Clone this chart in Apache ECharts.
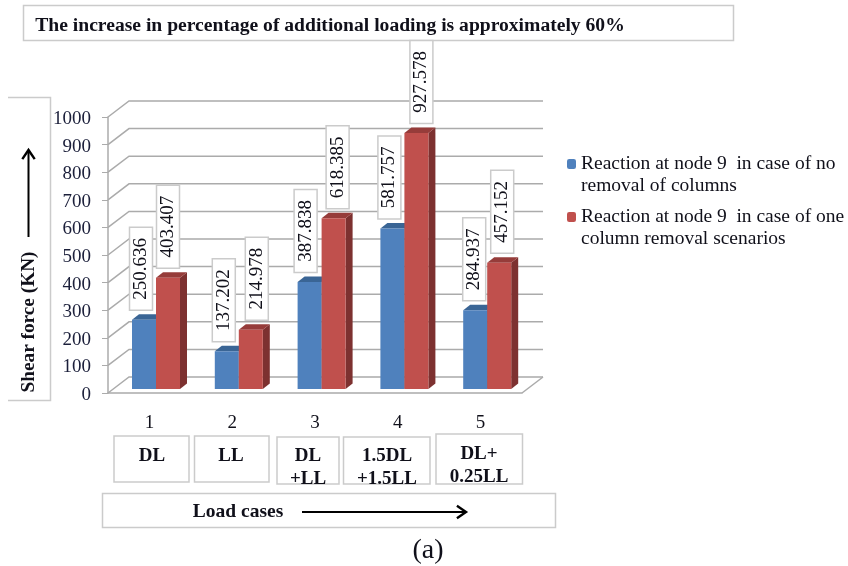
<!DOCTYPE html>
<html><head><meta charset="utf-8">
<style>html,body{margin:0;padding:0;background:#fff}#c{width:848px;height:566px}</style>
<script src="https://cdn.jsdelivr.net/npm/echarts@6/dist/echarts.min.js"></script>
</head><body><div id="c"></div>
<script>
const categories = ['1','2','3','4','5'];
const loadCases = ['DL','LL','DL\n+LL','1.5DL\n+1.5LL','DL+\n0.25LL'];
const noRemoval = [250.636,137.202,387.838,581.757,284.937];
const oneRemoval = [403.407,214.978,618.385,927.578,457.152];
const yTicks = [0,100,200,300,400,500,600,700,800,900,1000];
const nameNoRemoval = 'Reaction at node 9  in case of no\nremoval of columns';
const nameOneRemoval = 'Reaction at node 9  in case of one\ncolumn removal scenarios';
const titleText = 'The increase in percentage of additional loading is approximately 60%';

const SERIF = '"Liberation Serif","Times New Roman",serif';
const INK = '#10101a', BOX = '#cbcbcb', GRID = '#ababab';
const DX = 21, DY = -16;           // depth of the back wall
const BW = 24, BD = 7, BT = 5.5, LIFT = 4, SHIFT = 6.6; // bar shape
// hand-placed label boxes in the original: horizontal nudge from the bar
const nudgeBlue = [-3,-3,-4,-3,-1];
const nudgeRed = [0,6,4,5,3];

function wall(params, api){
  const v = api.value(0);
  const half = api.size([1,0])[0]/2;
  const p = api.coord([0, v]);
  const q = api.coord([categories.length-1, v]);
  const x0 = p[0]-half, x1 = q[0]+half, y = p[1];
  const kids = [{type:'polyline',shape:{points:[[x0,y],[x0+DX,y+DY],[x1+DX,y+DY]]},
    style:{stroke:GRID,lineWidth:1.5,fill:null},silent:true}];
  if(v===0) kids.push({type:'line',shape:{x1:x1,y1:y,x2:x1+DX,y2:y+DY},style:{stroke:GRID,lineWidth:1.5}});
  return {type:'group',children:kids};
}
function barMaker(side, front, top, dark, nudge){
  return function(params, api){
    const i = api.value(0), v = api.value(1);
    const c = api.coord([i, v]), b = api.coord([i, 0]);
    const xc = c[0]+SHIFT, x0 = side<0 ? xc-BW : xc, x1 = x0+BW;
    const yt = c[1]-LIFT, yb = b[1]-LIFT;
    const by = yt-9.5, bh = 83, bw = 23, bx = (x0+x1)/2+nudge[i];
    return {type:'group',children:[
      {type:'polygon',shape:{points:[[x1,yt],[x1+BD,yt-BT],[x1+BD,yb-BT],[x1,yb]]},style:{fill:dark}},
      {type:'polygon',shape:{points:[[x0,yt],[x0+BD,yt-BT],[x1+BD,yt-BT],[x1,yt]]},style:{fill:top}},
      {type:'rect',shape:{x:x0,y:yt,width:BW,height:yb-yt},style:{fill:front}},
      {type:'rect',shape:{x:bx-bw/2,y:by-bh,width:bw,height:bh},style:{fill:'#fff',stroke:BOX,lineWidth:1.5}},
      {type:'text',x:bx,y:by-bh/2,rotation:Math.PI/2,style:{text:v.toFixed(3),align:'center',verticalAlign:'middle',
        fill:INK,font:'19px '+SERIF}}
    ]};
  };
}
function box(x,y,w,h){return {type:'rect',shape:{x:x,y:y,width:w,height:h},style:{fill:'#fff',stroke:BOX,lineWidth:1.5},z:1};}
function txt(x,y,t,size,bold,rot,lh){return {type:'text',x:x,y:y,rotation:rot||0,z:2,
  style:{text:t,align:'center',verticalAlign:'middle',fill:INK,font:(bold?'bold ':'')+size+'px '+SERIF,lineHeight:lh||size}};}
function arrow(x1,y1,x2,y2){
  const a=Math.atan2(y2-y1,x2-x1),s=11;
  return [{type:'line',z:2,shape:{x1:x1,y1:y1,x2:x2,y2:y2},style:{stroke:'#000',lineWidth:2}},
   {type:'polyline',z:2,shape:{points:[[x2-s*Math.cos(a-0.6),y2-s*Math.sin(a-0.6)],[x2,y2],[x2-s*Math.cos(a+0.6),y2-s*Math.sin(a+0.6)]]},
    style:{stroke:'#000',lineWidth:2.4,fill:null}}];
}
const caseBoxes = [[114,436,75,46,152,456],[194.5,436,74.5,46,231,456],[277,437,62,47,308,468],[343.5,437,86.5,47,387,468],[436,434,86.5,50,479,466]];
const graphics = [
  box(23.5,5.5,710,35), txt(330,26,titleText,19.6,true),
  {type:'polyline',z:1,shape:{points:[[8,97.5],[50.5,97.5],[50.5,400.5],[8,400.5]]},style:{stroke:BOX,fill:null,lineWidth:1.5}},
  txt(29.5,322,'Shear force (KN)',19.3,true,Math.PI/2),
  ...arrow(28.5,237,28.5,150),
  box(102.5,493.5,453,34), txt(238,512,'Load cases',19.5,true),
  ...arrow(302,512,466,512),
  txt(428,551,'(a)',28,false)
];
caseBoxes.forEach((b,i)=>{graphics.push(box(b[0],b[1],b[2],b[3]));graphics.push(txt(b[4],b[5],loadCases[i],19,true,0,23));});

const chart = echarts.init(document.getElementById('c'),null,{renderer:'canvas'});
chart.setOption({
  animation:false,
  backgroundColor:'#fff',
  grid:{left:108,top:117,width:414,height:276},
  legend:{left:567,top:131,padding:0,orient:'vertical',itemWidth:9,itemHeight:10,itemGap:-13,
    data:[nameNoRemoval,nameOneRemoval],selectedMode:false,
    formatter:n=>' \n'+n,
    textStyle:{fontFamily:SERIF,fontSize:19.5,color:INK,lineHeight:22}},
  xAxis:{type:'category',data:categories,
    axisLine:{lineStyle:{color:GRID,width:1.5}},
    axisTick:{length:6,lineStyle:{color:GRID}},
    axisLabel:{margin:21,fontFamily:SERIF,fontSize:19,color:INK}},
  yAxis:{type:'value',min:0,max:1000,interval:100,
    axisLine:{show:true,lineStyle:{color:GRID,width:1.5}},
    axisTick:{show:true,length:6,lineStyle:{color:GRID}},
    splitLine:{show:false},
    axisLabel:{margin:17,verticalAlign:'top',lineHeight:4,fontFamily:SERIF,fontSize:19,color:'#1b1f3a',formatter:v=>String(v)}},
  series:[
    {type:'custom',name:'walls',renderItem:wall,data:yTicks.map(v=>[v]),encode:{y:0},silent:true,z:1,clip:false},
    {type:'custom',name:nameNoRemoval,itemStyle:{color:'#4F81BD'},z:3,clip:false,encode:{x:0,y:1},
      renderItem:barMaker(-1,'#4F81BD','#3A6595','#33557e',nudgeBlue),data:noRemoval.map((v,i)=>[i,v])},
    {type:'custom',name:nameOneRemoval,itemStyle:{color:'#C0504D'},z:4,clip:false,encode:{x:0,y:1},
      renderItem:barMaker(1,'#C0504D','#963C3A','#7D3130',nudgeRed),data:oneRemoval.map((v,i)=>[i,v])}
  ],
  graphic:graphics
});
</script></body></html>
